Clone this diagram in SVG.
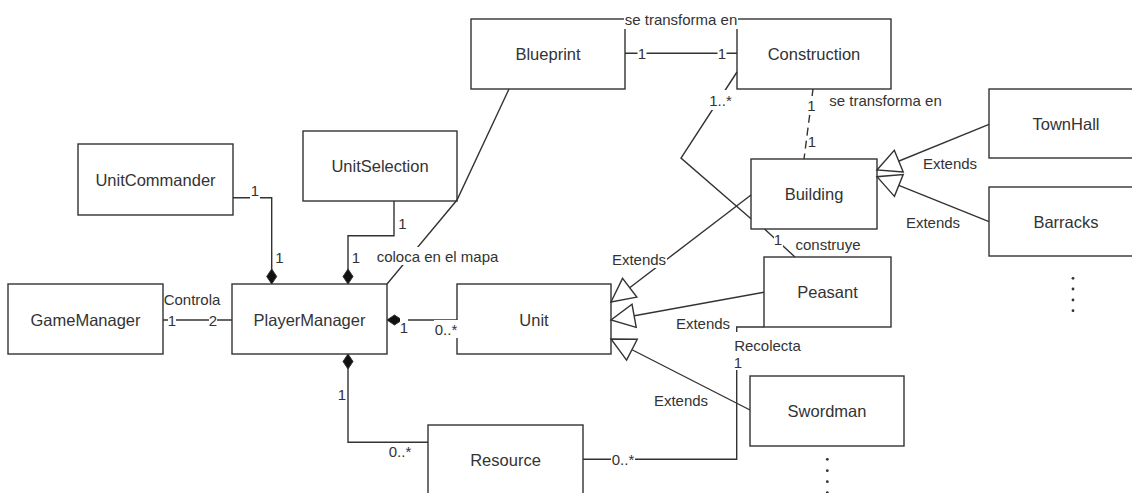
<svg xmlns="http://www.w3.org/2000/svg" width="1132" height="493" viewBox="0 0 1132 493">
  <style>
    .node rect { fill: #ffffff; stroke: #333333; stroke-width: 1.4; }
    .node text { font-family: "Liberation Sans", Arial, sans-serif; font-size: 16.5px; fill: #333333; text-anchor: middle; dominant-baseline: central; }
    .edge { fill: none; stroke: #333333; stroke-width: 1.4; }
    .dash { stroke-dasharray: 8 5; }
    .lbl { font-family: "Liberation Sans", Arial, sans-serif; font-size: 15px; fill: #333333; text-anchor: middle; dominant-baseline: central; }
    .bg { fill: #ffffff; stroke: none; }
    .dot { fill: #333333; }
  </style>
  <defs>
    <!-- open triangle for generalisation -->
    <marker id="extends" markerUnits="userSpaceOnUse" markerWidth="26" markerHeight="26" viewBox="0 0 26 26" refX="24.5" refY="13" orient="auto" overflow="visible">
      <path d="M1,1.25 L24.5,13 L1,24.75 Z" fill="#ffffff" stroke="#333333" stroke-width="1.4" stroke-linejoin="miter"/>
    </marker>
    <!-- filled diamond for composition -->
    <marker id="compose" markerUnits="userSpaceOnUse" markerWidth="16" markerHeight="12" viewBox="0 0 16 12" refX="15.5" refY="6" orient="auto" overflow="visible">
      <path d="M0.5,6 L8,1 L15.5,6 L8,11 Z" fill="#111111" stroke="#333333" stroke-width="1"/>
    </marker>
  </defs>

  <rect x="0" y="0" width="1132" height="493" fill="#ffffff"/>

  <g id="UnitCommander" class="node"><rect x="78" y="144" width="155" height="71"/><text x="155.5" y="179.5">UnitCommander</text></g>
  <g id="UnitSelection" class="node"><rect x="303" y="131" width="154" height="70"/><text x="380" y="166">UnitSelection</text></g>
  <g id="GameManager" class="node"><rect x="8" y="284" width="155" height="70"/><text x="85.5" y="319.5">GameManager</text></g>
  <g id="PlayerManager" class="node"><rect x="232" y="284" width="155" height="70"/><text x="309.5" y="319.5">PlayerManager</text></g>
  <g id="Blueprint" class="node"><rect x="471" y="19" width="154" height="70"/><text x="548" y="54">Blueprint</text></g>
  <g id="Construction" class="node"><rect x="737" y="19" width="154" height="70"/><text x="814" y="54">Construction</text></g>
  <g id="Building" class="node"><rect x="751" y="159" width="126" height="70"/><text x="814" y="194">Building</text></g>
  <g id="TownHall" class="node"><rect x="989" y="89" width="154" height="69"/><text x="1066" y="123.5">TownHall</text></g>
  <g id="Barracks" class="node"><rect x="989" y="187" width="154" height="69"/><text x="1066" y="221.5">Barracks</text></g>
  <g id="Unit" class="node"><rect x="457" y="284" width="154" height="70"/><text x="534" y="319.5">Unit</text></g>
  <g id="Peasant" class="node"><rect x="764" y="257" width="127" height="70"/><text x="827.5" y="292">Peasant</text></g>
  <g id="Swordman" class="node"><rect x="750" y="376" width="154" height="70"/><text x="827" y="411">Swordman</text></g>
  <g id="Resource" class="node"><rect x="428" y="425" width="155" height="70"/><text x="505.5" y="460">Resource</text></g>

  <g id="connectors">
    <!-- compositions into PlayerManager -->
    <path class="edge" d="M233,197.7 L271.7,197.7 L271.7,284" marker-end="url(#compose)"/>
    <path class="edge" d="M394,201 L394,235.7 L348,235.7 L348,284" marker-end="url(#compose)"/>
    <path class="edge" d="M457,320 L387,320" marker-end="url(#compose)"/>
    <path class="edge" d="M428,442.3 L348,442.3 L348,354" marker-end="url(#compose)"/>
    <!-- plain associations -->
    <path class="edge" d="M163,320 L232,320"/>
    <path class="edge" d="M387,284 L457,200 L509,89"/>
    <path class="edge" d="M625,53.3 L737,53.3"/>
    <path class="edge dash" d="M813,89 L804,159"/>
    <path class="edge" d="M737,72 L681,158 L751,218.8 M764.5,229 L795,257"/>
    <path class="edge" d="M583,459.3 L736.7,459.3 L736.7,327 L764,327"/>
    <!-- generalisations -->
    <path class="edge" d="M989,124.3 L877,170" marker-end="url(#extends)"/>
    <path class="edge" d="M989,221.7 L877,176.7" marker-end="url(#extends)"/>
    <path class="edge" d="M751,195 L611,302" marker-end="url(#extends)"/>
    <path class="edge" d="M764,292.3 L611,320" marker-end="url(#extends)"/>
    <path class="edge" d="M750,410 L611,339" marker-end="url(#extends)"/>

    <!-- labels -->
    <rect class="bg" x="250" y="182" width="10" height="17"/><text class="lbl" x="255" y="190">1</text>
    <text class="lbl" x="279.5" y="257">1</text>
    <text class="lbl" x="402.5" y="223">1</text>
    <text class="lbl" x="356" y="257">1</text>
    <rect class="bg" x="374" y="247" width="127" height="18"/><text class="lbl" x="437.5" y="256">coloca en el mapa</text>
    <text class="lbl" x="192" y="299">Controla</text>
    <rect class="bg" x="168" y="311" width="8" height="18"/><text class="lbl" x="172" y="320">1</text>
    <rect class="bg" x="209" y="311" width="8" height="18"/><text class="lbl" x="213" y="320">2</text>
    <rect class="bg" x="400" y="318" width="8" height="18"/><text class="lbl" x="404" y="327">1</text>
    <rect class="bg" x="434" y="320" width="24" height="18"/><text class="lbl" x="446" y="329">0..*</text>
    <text class="lbl" x="342" y="394">1</text>
    <text class="lbl" x="400" y="451">0..*</text>
    <rect class="bg" x="637.5" y="44" width="9" height="18"/><text class="lbl" x="642" y="53">1</text>
    <rect class="bg" x="717.5" y="44" width="9" height="18"/><text class="lbl" x="722" y="53">1</text>
    <rect class="bg" x="624" y="10" width="114" height="19"/><text class="lbl" x="681" y="19">se transforma en</text>
    <rect class="bg" x="708" y="90" width="25" height="20"/><text class="lbl" x="720.5" y="100">1..*</text>
    <rect class="bg" x="807" y="96" width="9" height="18"/><text class="lbl" x="811.5" y="105">1</text>
    <rect class="bg" x="808" y="132" width="9" height="18"/><text class="lbl" x="812" y="141">1</text>
    <text class="lbl" x="885.5" y="100">se transforma en</text>
    <rect class="bg" x="774" y="231" width="9" height="16"/><text class="lbl" x="778" y="239">1</text>
    <text class="lbl" x="828" y="244">construye</text>
    <text class="lbl" x="950" y="163">Extends</text>
    <text class="lbl" x="933" y="222">Extends</text>
    <rect class="bg" x="611" y="250" width="56" height="18"/><text class="lbl" x="639" y="259">Extends</text>
    <text class="lbl" x="703" y="323">Extends</text>
    <text class="lbl" x="681" y="400">Extends</text>
    <rect class="bg" x="611" y="450" width="24" height="18"/><text class="lbl" x="623" y="459">0..*</text>
    <rect class="bg" x="733" y="332" width="70" height="22"/><text class="lbl" x="767.5" y="345">Recolecta</text>
    <rect class="bg" x="734" y="354" width="9" height="16"/><text class="lbl" x="738" y="362">1</text>
  </g>

  <!-- continuation dots -->
  <g id="more-buildings">
    <circle class="dot" cx="1073" cy="278.3" r="1.4"/>
    <circle class="dot" cx="1073" cy="289" r="1.4"/>
    <circle class="dot" cx="1073" cy="300" r="1.4"/>
    <circle class="dot" cx="1073" cy="310.7" r="1.4"/>
  </g>
  <g id="more-units">
    <circle class="dot" cx="827.3" cy="459.3" r="1.4"/>
    <circle class="dot" cx="827.3" cy="470.7" r="1.4"/>
    <circle class="dot" cx="827.3" cy="481.7" r="1.4"/>
    <circle class="dot" cx="827.3" cy="492.7" r="1.4"/>
  </g>
</svg>
